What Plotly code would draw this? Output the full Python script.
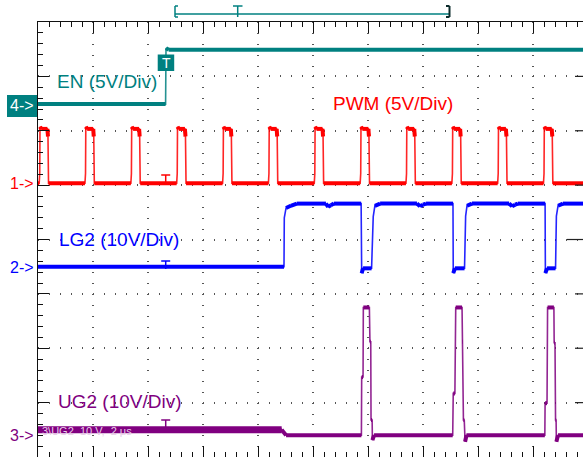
import plotly.graph_objects as go

# ---------------- data (time in microseconds, values in volts) ----------------
END_US = 19.82

en_t = [0.0, 4.64, 4.655, 4.75, END_US]
en_v = [0.0, 0.0, 5.15, 5.0, 5.0]

pwm_rise_us = [0.073, 1.738, 3.407, 5.073, 6.742, 8.408, 10.076, 11.745,
               13.411, 15.080, 16.745, 18.411]
pwm_high_v = 5.0

lg2_t = [0.0, 8.945, 8.956, 9.02, 9.19, 9.41, 10.47, 10.55, 10.65, 10.76,
         11.75, 11.77, 11.82, 12.13, 12.19, 12.25, 12.44, 13.78, 13.89, 14.00,
         14.11, 15.09, 15.10, 15.16, 15.51, 15.55, 15.60, 15.78, 17.13, 17.24,
         17.35, 17.45, 18.44, 18.45, 18.51, 18.82, 18.85, 18.91, 19.09, END_US]
lg2_v = [0.0, 0.0, 9.0, 10.8, 11.2, 11.6, 11.6, 11.0, 11.3, 11.6,
         11.6, -1.2, -0.3, -0.3, 9.2, 11.2, 11.6, 11.6, 11.1, 11.4,
         11.6, 11.6, -1.2, -0.3, -0.3, 9.3, 11.2, 11.6, 11.6, 11.1,
         11.4, 11.6, 11.6, -1.2, -0.3, -0.3, 9.3, 11.2, 11.6, 11.6]

ug2_t = [0.0, 8.86, 9.02,
         11.76, 11.77, 11.82, 11.83, 12.05, 12.07, 12.10, 12.11, 12.15, 12.16, 12.22,
         15.08, 15.10, 15.16, 15.19, 15.42, 15.43, 15.45, 15.47, 15.50, 15.53, 15.58,
         18.43, 18.44, 18.51, 18.53, 18.76, 18.77, 18.80, 18.82, 18.84, 18.85, 18.91,
         END_US]
ug2_v = [1.0, 1.0, 0.0,
         0.0, 10.7, 10.7, 23.5, 23.5, 17.2, 17.2, 2.8, 2.8, -0.9, 0.0,
         0.0, 7.7, 7.7, 23.5, 23.5, 17.2, 17.2, 2.8, 2.8, -1.2, 0.0,
         0.0, 5.9, 5.9, 23.5, 23.5, 17.0, 17.0, 2.8, 2.8, -1.2, 0.0,
         0.0]

trigger_us = 4.644
channel_names = ["EN", "PWM", "LG2", "UG2"]
channel_labels = ["EN (5V/Div)", "PWM (5V/Div)", "LG2 (10V/Div)", "UG2 (10V/Div)"]
volts_per_div = [5, 5, 10, 10]
ground_div = [6.49, 5.034, 3.5, 0.4]
channel_numbers = ["4->", "1->", "2->", "3->"]
colors = ["#008080", "#ff0000", "#0000ff", "#800080"]

# ---------------- build PWM waveform from its rising edges ----------------
pulse_shape = [(-0.03, 0.0), (-0.01, 0.9), (0.0, 5.2), (0.05, 5.0),
               (0.27, 5.0), (0.29, 4.3), (0.31, 0.0)]
pwm_t, pwm_v = [0.0], [0.0]
for r in pwm_rise_us:
    for dt, frac in pulse_shape:
        pwm_t.append(r + dt)
        pwm_v.append(frac / 5.0 * pwm_high_v)
pwm_t.append(END_US)
pwm_v.append(0.0)

series = [(en_t, en_v), (pwm_t, pwm_v), (lg2_t, lg2_v), (ug2_t, ug2_v)]

# ---------------- geometry ----------------
W, H = 583, 457
L, T = 38, 22
US_PER_DIV = 2.0
X_MAX = (W - L) / 55.0 * US_PER_DIV


def xp(p):
    return (p - L) / (W - L)


def yp(p):
    return (H - p) / (H - T)


fig = go.Figure()

for (t, v), vd, g, c, name in zip(series, volts_per_div, ground_div, colors, channel_names):
    d = [g + val / vd for val in v]
    fig.add_trace(go.Scatter(x=t, y=d, mode="lines", name=name,
                             line=dict(color=c, width=1.6), opacity=0.85,
                             hoverinfo="skip", showlegend=False))
    tx, ty = [], []
    for i in range(len(t) - 1):
        if abs(d[i + 1] - d[i]) < 0.15:
            tx += [t[i], t[i + 1], None]
            ty += [d[i], d[i + 1], None]
    fig.add_trace(go.Scatter(x=tx, y=ty, mode="lines", name=name + " level",
                             line=dict(color=c, width=4),
                             hoverinfo="skip", showlegend=False))
    if name == "UG2":
        # noisier band before LG2 switches on
        bx = [t[i] for i in range(len(t)) if v[i] > 0.5 and t[i] < 9]
        by = [g + 1.0 / vd for _ in bx]
        fig.add_trace(go.Scatter(x=bx, y=by, mode="lines", name="UG2 band",
                                 line=dict(color=c, width=7),
                                 hoverinfo="skip", showlegend=False))

shapes = []
annotations = []

# top memory bar
teal = "#008080"
mem = [((175, 14), (449, 14)), ((175, 6), (175, 17)), ((175, 6), (178, 6)),
       ((175, 17), (178, 17)), ((233, 6), (242.5, 6)), ((237.7, 6), (237.7, 17))]
for (a, b) in mem:
    shapes.append(dict(type="line", xref="paper", yref="paper",
                       x0=xp(a[0]), y0=yp(a[1]), x1=xp(b[0]), y1=yp(b[1]),
                       line=dict(color=teal, width=1.5)))
for (a, b) in [((449.5, 6), (449.5, 17)), ((446, 6), (449.5, 6)), ((446, 17), (449.5, 17))]:
    shapes.append(dict(type="line", xref="paper", yref="paper",
                       x0=xp(a[0]), y0=yp(a[1]), x1=xp(b[0]), y1=yp(b[1]),
                       line=dict(color="#0a2a2a", width=2)))

# right edge major ticks
for k in range(1, 8):
    shapes.append(dict(type="line", xref="paper", yref="y",
                       x0=xp(567 if k == 4 else 575), x1=1.0, y0=k, y1=k,
                       line=dict(color="#222", width=1.2)))

# small trigger-position markers on traces
xc = L + trigger_us / US_PER_DIV * 55.0
for c, bar in [(colors[1], 175), (colors[2], 261), (colors[3], 420)]:
    shapes.append(dict(type="line", xref="paper", yref="paper",
                       x0=xp(xc - 4.5), x1=xp(xc + 4.5), y0=yp(bar), y1=yp(bar),
                       line=dict(color=c, width=1.5)))
    shapes.append(dict(type="line", xref="paper", yref="paper",
                       x0=xp(xc), x1=xp(xc), y0=yp(bar), y1=yp(bar + 8),
                       line=dict(color=c, width=1.5)))

# trigger box "T" on EN
shapes.append(dict(type="rect", xref="paper", yref="paper",
                   x0=xp(xc - 8), x1=xp(xc + 8.5), y0=yp(54.5), y1=yp(71),
                   fillcolor=teal, line=dict(width=0)))
annotations.append(dict(text="T", xref="paper", yref="paper", x=xp(xc + 0.5), y=yp(63),
                        showarrow=False, xanchor="center", yanchor="middle",
                        font=dict(family="Liberation Sans, Arial", size=14, color="white")))

# channel 4 marker box
shapes.append(dict(type="rect", xref="paper", yref="paper",
                   x0=xp(7), x1=xp(37), y0=yp(95), y1=yp(117),
                   fillcolor=teal, line=dict(width=0)))

marker_y = [105, 183, 267, 435]
for num, c, my in zip(channel_numbers, colors, marker_y):
    annotations.append(dict(text=num, xref="paper", yref="paper", x=xp(22), y=yp(my),
                            showarrow=False, xanchor="center", yanchor="middle",
                            font=dict(family="Liberation Sans, Arial", size=16,
                                      color="white" if num == "4->" else c)))

label_pos = [(55, 81), (331, 104), (57, 240), (56, 401)]
for lab, c, (lx, ly) in zip(channel_labels, colors, label_pos):
    annotations.append(dict(text=lab, xref="paper", yref="paper", x=xp(lx), y=yp(ly),
                            showarrow=False, xanchor="left", yanchor="middle",
                            font=dict(family="Liberation Sans, Arial", size=19, color=c)))

annotations.append(dict(text="3\\UG2  10 V,  2 \u03bcs", xref="paper", yref="paper",
                        x=xp(40), y=yp(431), showarrow=False, xanchor="left",
                        yanchor="middle",
                        font=dict(family="Liberation Sans, Arial", size=11, color="#e8cce8")))

fig.update_layout(
    width=W, height=H,
    margin=dict(l=L, r=0, t=T, b=0, autoexpand=False),
    paper_bgcolor="white", plot_bgcolor="white",
    shapes=shapes, annotations=annotations,
    showlegend=False,
    xaxis=dict(range=[0, X_MAX], dtick=2, tick0=0, showticklabels=False,
               ticks="inside", ticklen=11, tickcolor="#111", tickwidth=1,
               minor=dict(dtick=0.4, tick0=0, ticks="inside", ticklen=5,
                          tickcolor="#111", tickwidth=1, showgrid=False),
               showline=True, linecolor="#111", linewidth=1, mirror="ticks",
               showgrid=True, gridcolor="#555", gridwidth=1.5,
               griddash="1px,9.875px", zeroline=False, fixedrange=True),
    yaxis=dict(range=[0, 8], dtick=1, tick0=0, showticklabels=False,
               ticks="inside", ticklen=11, tickcolor="#111", tickwidth=1,
               minor=dict(dtick=0.2, tick0=0, ticks="inside", ticklen=4.5,
                          tickcolor="#111", tickwidth=1, showgrid=False),
               showline=True, linecolor="#111", linewidth=1,
               showgrid=True, gridcolor="#555", gridwidth=1.5,
               griddash="1px,10px", zeroline=False, fixedrange=True),
)

fig.write_html("out.html")
